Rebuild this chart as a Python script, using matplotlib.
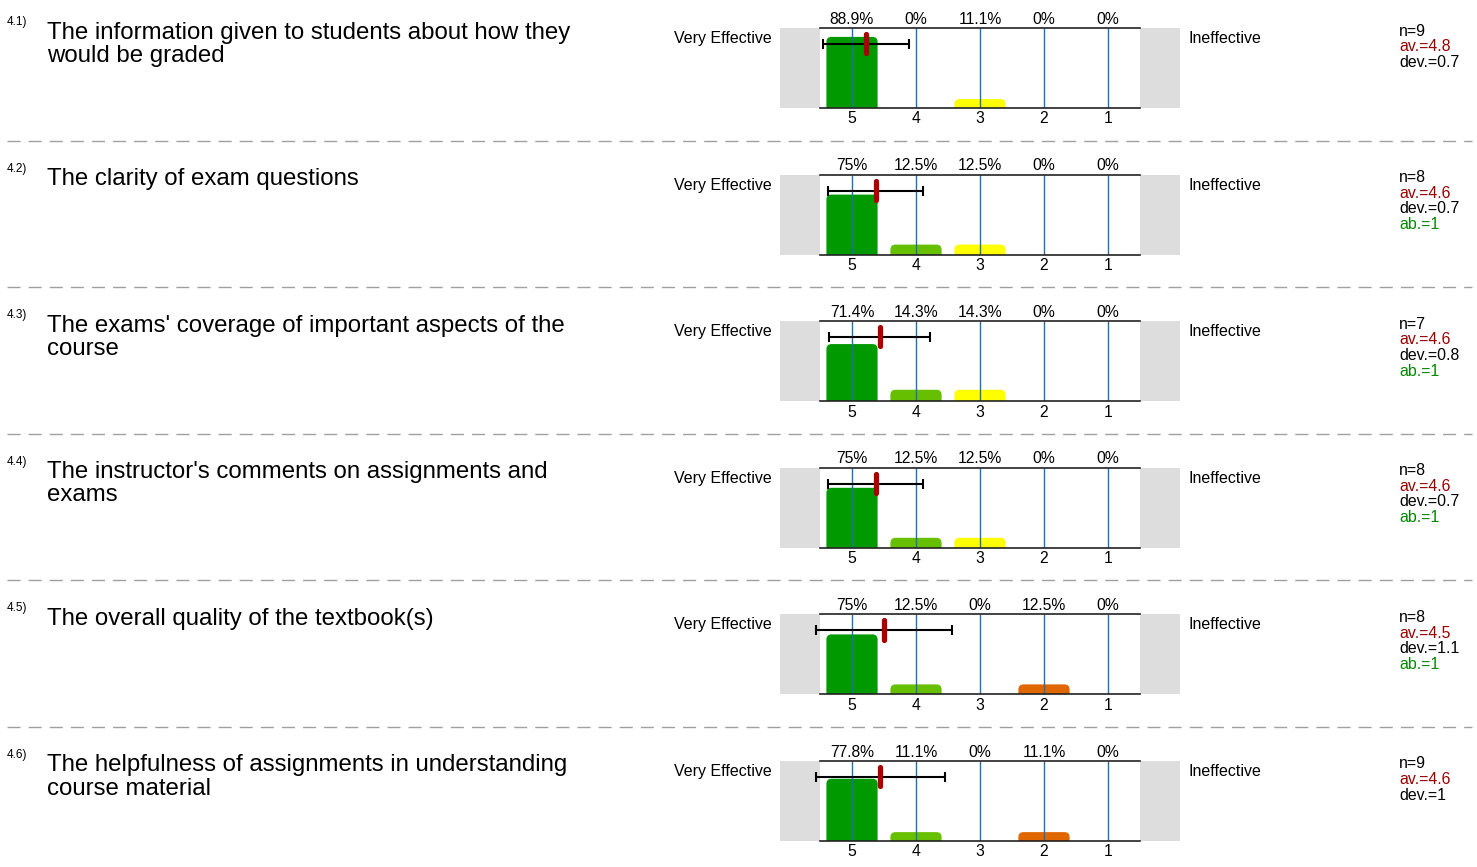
import matplotlib
matplotlib.use('Agg')
from matplotlib import pyplot as plt
from matplotlib.patches import FancyBboxPatch, Rectangle
from matplotlib.lines import Line2D

plt.rcParams['font.family'] = ['Liberation Sans', 'DejaVu Sans']

#### D A T A ####
numbers = ['4.1)', '4.2)', '4.3)', '4.4)', '4.5)', '4.6)']
questions = [
    'The information given to students about how they\nwould be graded',
    'The clarity of exam questions',
    "The exams' coverage of important aspects of the\ncourse",
    "The instructor's comments on assignments and\nexams",
    'The overall quality of the textbook(s)',
    'The helpfulness of assignments in understanding\ncourse material',
]
scale = [5, 4, 3, 2, 1]
percents = [
    [88.9, 0, 11.1, 0, 0],
    [75, 12.5, 12.5, 0, 0],
    [71.4, 14.3, 14.3, 0, 0],
    [75, 12.5, 12.5, 0, 0],
    [75, 12.5, 0, 12.5, 0],
    [77.8, 11.1, 0, 11.1, 0],
]
pct_labels = [
    ['88.9%', '0%', '11.1%', '0%', '0%'],
    ['75%', '12.5%', '12.5%', '0%', '0%'],
    ['71.4%', '14.3%', '14.3%', '0%', '0%'],
    ['75%', '12.5%', '12.5%', '0%', '0%'],
    ['75%', '12.5%', '0%', '12.5%', '0%'],
    ['77.8%', '11.1%', '0%', '11.1%', '0%'],
]
n_vals = [9, 8, 7, 8, 8, 9]
means = [4.78, 4.63, 4.57, 4.63, 4.5, 4.56]
devs = [0.67, 0.74, 0.79, 0.74, 1.07, 1.01]
av_text = ['4.8', '4.6', '4.6', '4.6', '4.5', '4.6']
dev_text = ['0.7', '0.7', '0.8', '0.7', '1.1', '1']
abstain = [None, 1, 1, 1, 1, None]
left_label = 'Very Effective'
right_label = 'Ineffective'

bar_colors = {5: '#009900', 4: '#66bf00', 3: '#ffff00', 2: '#e06600', 1: '#cc0000'}

#### L A Y O U T ####
W, H = 1477, 867
fig = plt.figure(figsize=(W / 100, H / 100), dpi=100)
row_h = 146.6


def fx(px):
    return px / W


def fy(py):
    return 1 - py / H


for i in range(6):
    dy = i * row_h

    # text on the left
    fig.text(fx(7), fy(22 + dy), numbers[i], fontsize=8.5, va='center', ha='left')
    fig.text(fx(47), fy(21.5 + dy), questions[i], fontsize=17.3, va='top', ha='left',
             linespacing=1.07)

    # chart
    ax = fig.add_axes([fx(820), fy(108 + dy), 320 / W, 80 / H])
    ax.set_xlim(5.5, 0.5)
    ax.set_ylim(0, 100)
    ax.patch.set_alpha(0)

    for s, p in zip(scale, percents[i]):
        if p > 0:
            bar = FancyBboxPatch((s - 0.4, -10), 0.8, p + 10,
                                 boxstyle='round,pad=0,rounding_size=0.08',
                                 mutation_aspect=80, facecolor=bar_colors[s],
                                 edgecolor='none', zorder=1.5)
            ax.add_patch(bar)

    ax.vlines(scale, 0, 100, color='#1f6fb8', lw=1, zorder=2)

    # gray side boxes
    ax.add_patch(Rectangle((5.5, 0), 0.625, 100, facecolor='#dddddd',
                           edgecolor='none', clip_on=False))
    ax.add_patch(Rectangle((0.5, 0), -0.625, 100, facecolor='#dddddd',
                           edgecolor='none', clip_on=False))

    # error bar and mean
    eb = ax.errorbar(means[i], 80, xerr=devs[i], color='black', lw=1.5, capsize=3.8,
                     capthick=1.5, zorder=3)
    for art in eb.lines[1] + eb.lines[2]:
        art.set_clip_on(False)
    ax.plot([means[i], means[i]], [68.5, 92.5], color='#aa0000', lw=3.8,
            solid_capstyle='round', zorder=4)

    for s, lab in zip(scale, pct_labels[i]):
        ax.annotate(lab, (s, 100), xytext=(0, 1.0), textcoords='offset points',
                    ha='center', va='bottom', fontsize=11.3)

    ax.set_xticks(scale)
    ax.set_xticklabels([str(s) for s in scale], fontsize=11.3)
    ax.tick_params(axis='x', length=0, pad=2.5)
    ax.set_yticks([])
    for side in ['left', 'right']:
        ax.spines[side].set_visible(False)
    for side in ['top', 'bottom']:
        ax.spines[side].set_color('#222222')
        ax.spines[side].set_linewidth(1.2)
        ax.spines[side].set_zorder(5)

    fig.text(fx(772), fy(38.5 + dy), left_label, fontsize=11.5, ha='right', va='center')
    fig.text(fx(1188), fy(38.5 + dy), right_label, fontsize=11.5, ha='left', va='center')

    # stats
    stats = [('n=%d' % n_vals[i], 'black'),
             ('av.=' + av_text[i], '#990000'),
             ('dev.=' + dev_text[i], 'black')]
    if abstain[i] is not None:
        stats.append(('ab.=%d' % abstain[i], '#008800'))
    for k, (txt, col) in enumerate(stats):
        fig.text(fx(1399), fy(31 + dy + k * 15.6), txt, fontsize=11.4, color=col,
                 ha='left', va='center')

    # separator
    if i < 5:
        sep_y = fy(140.5 + dy)
        fig.add_artist(Line2D([fx(7), fx(1472)], [sep_y, sep_y], color='#a0a0a0',
                              lw=1, dashes=(9.4, 5.8)))

plt.savefig('out.png', dpi=100)
